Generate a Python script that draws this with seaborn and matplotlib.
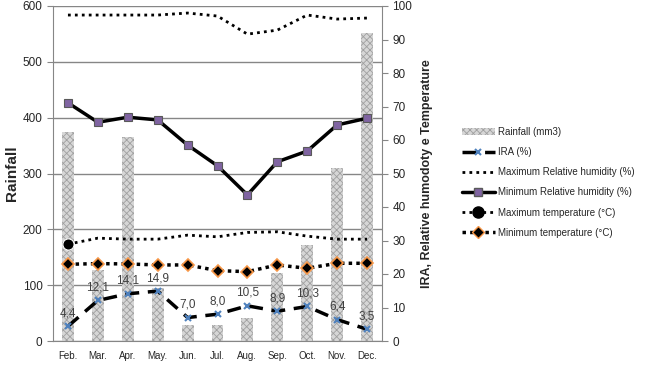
import matplotlib
matplotlib.use("Agg")
import matplotlib.pyplot as plt
import numpy as np
import pandas as pd
import seaborn as sns
from matplotlib.lines import Line2D
from matplotlib.patches import Patch

# data
months = ["Feb.", "Mar.", "Apr.", "May.", "Jun.", "Jul.", "Aug.", "Sep.", "Oct.", "Nov.", "Dec."]
rainfall = [375, 127, 366, 95, 29, 28, 41, 121, 172, 309, 551]
ira = [4.4, 12.1, 14.1, 14.9, 7.0, 8.0, 10.5, 8.9, 10.3, 6.4, 3.5]
max_rh = [97.3, 97.3, 97.3, 97.3, 97.9, 97.0, 91.6, 92.8, 97.3, 96.1, 96.4]
min_rh = [71.1, 65.3, 66.8, 66.0, 58.5, 52.3, 43.6, 53.5, 56.7, 64.5, 66.5]
max_temp = [28.9, 30.7, 30.4, 30.4, 31.6, 31.1, 32.4, 32.6, 31.3, 30.4, 30.4]
min_temp = [22.9, 23.1, 23.0, 22.7, 22.7, 21.0, 20.7, 22.7, 21.7, 23.2, 23.2]

sns.set_style("white")
plt.rcParams["font.family"] = ["Liberation Sans", "DejaVu Sans"]
plt.rcParams["hatch.linewidth"] = 0.6

axis_grey = "#868686"

df = pd.DataFrame({"month": months, "rain": rainfall})
idx = np.arange(len(months))

fig = plt.figure(figsize=(6.5, 3.68), dpi=100)
ax = fig.add_axes([53 / 650, 1 - 341 / 368, 329 / 650, 335 / 368])

# ---------------- rainfall bars ----------------
sns.barplot(data=df, x="month", y="rain", ax=ax, color="#d6d6d6", width=0.4,
            linewidth=0, zorder=2)
for p in ax.patches:
    p.set_hatch("xxxxx")
    p.set_edgecolor("#a0a0a0")
    p.set_linewidth(0)

ax.set_ylim(0, 600)
ax.set_xlim(-0.5, 10.5)
ax.set_yticks(range(0, 601, 100))
ax.yaxis.grid(True, color=axis_grey, lw=1)
ax.set_axisbelow(True)
ax.set_xlabel("")
ax.set_ylabel("Rainfall", fontsize=11, fontweight="bold", labelpad=3)

ax.set_xticks(idx)
ax.set_xticks(np.arange(-0.5, 11, 1), minor=True)
ax.tick_params(axis="x", which="major", length=0, labelsize=7, pad=7)
ax.tick_params(axis="x", which="minor", length=4, color=axis_grey, direction="out")
ax.tick_params(axis="y", length=4, color=axis_grey, direction="out", labelsize=8.5)
for s in ["top", "right"]:
    ax.spines[s].set_visible(False)
for s in ["left", "bottom"]:
    ax.spines[s].set_color(axis_grey)

# ---------------- lines on right axis ----------------
ax2 = ax.twinx()
ax2.set_ylim(0, 100)

sns.lineplot(x=idx, y=max_rh, ax=ax2, color="black", lw=2,
             linestyle=(0, (1, 1.5)), legend=False)
sns.lineplot(x=idx, y=min_rh, ax=ax2, color="black", lw=2.5, marker="s",
             markersize=6, markerfacecolor="#8064a2", markeredgecolor="#595959",
             markeredgewidth=0.8, legend=False)
sns.lineplot(x=idx, y=max_temp, ax=ax2, color="black", lw=2,
             linestyle=(0, (1, 1.5)), marker="o", markersize=8,
             markevery=[0], legend=False)
sns.lineplot(x=idx, y=min_temp, ax=ax2, color="black", lw=2.5,
             linestyle=(0, (1, 1.2)), marker="D", markersize=6,
             markerfacecolor="black", markeredgecolor="#f79646",
             markeredgewidth=1.2, legend=False)
sns.lineplot(x=idx, y=ira, ax=ax2, color="black", lw=2.5,
             linestyle=(0, (4, 2.5)), marker="x", markersize=5,
             markeredgecolor="#4f81bd", markeredgewidth=1.5, legend=False)

for i, v in enumerate(ira):
    ax2.annotate(f"{v:.1f}".replace(".", ","), (i, v), xytext=(0, 5),
                 textcoords="offset points", ha="center", va="bottom",
                 fontsize=8.5, color="#404040")

ax2.set_yticks(range(0, 101, 10))
ax2.tick_params(axis="y", length=4, color=axis_grey, direction="out", labelsize=8.5)
ax2.set_xlabel("")
ax2.set_ylabel("IRA, Relative humodoty e Temperature", fontsize=9,
               fontweight="bold", labelpad=6)
for s in ["top", "left", "bottom"]:
    ax2.spines[s].set_visible(False)
ax2.spines["right"].set_color(axis_grey)

# ---------------- legend ----------------
handles = [
    Patch(facecolor="#d6d6d6", edgecolor="#a0a0a0", hatch="xxxxx", lw=0),
    Line2D([], [], color="black", lw=2.5, linestyle=(0, (4, 2.5)), marker="x",
           markersize=5, markeredgecolor="#4f81bd", markeredgewidth=1.5),
    Line2D([], [], color="black", lw=2, linestyle=(0, (1, 1.5))),
    Line2D([], [], color="black", lw=2.5, marker="s", markersize=6,
           markerfacecolor="#8064a2", markeredgecolor="#595959"),
    Line2D([], [], color="black", lw=2, linestyle=(0, (1, 1.5)), marker="o",
           markersize=8, markevery=[0]),
    Line2D([], [], color="black", lw=2.5, linestyle=(0, (1, 1.2)), marker="D",
           markersize=6, markerfacecolor="black", markeredgecolor="#f79646"),
]
labels = ["Rainfall (mm3)", "IRA (%)", "Maximum Relative humidity (%)",
          "Minimum Relative humidity (%)", "Maximum temperature (°C)",
          "Minimum temperature (°C)"]
fig.legend(handles, labels, loc="upper left", bbox_to_anchor=(453 / 650, 1 - 118 / 368),
           frameon=False, fontsize=7, handlelength=3.4, handletextpad=0.3,
           labelspacing=1.05)

fig.savefig("out.png", dpi=100)
